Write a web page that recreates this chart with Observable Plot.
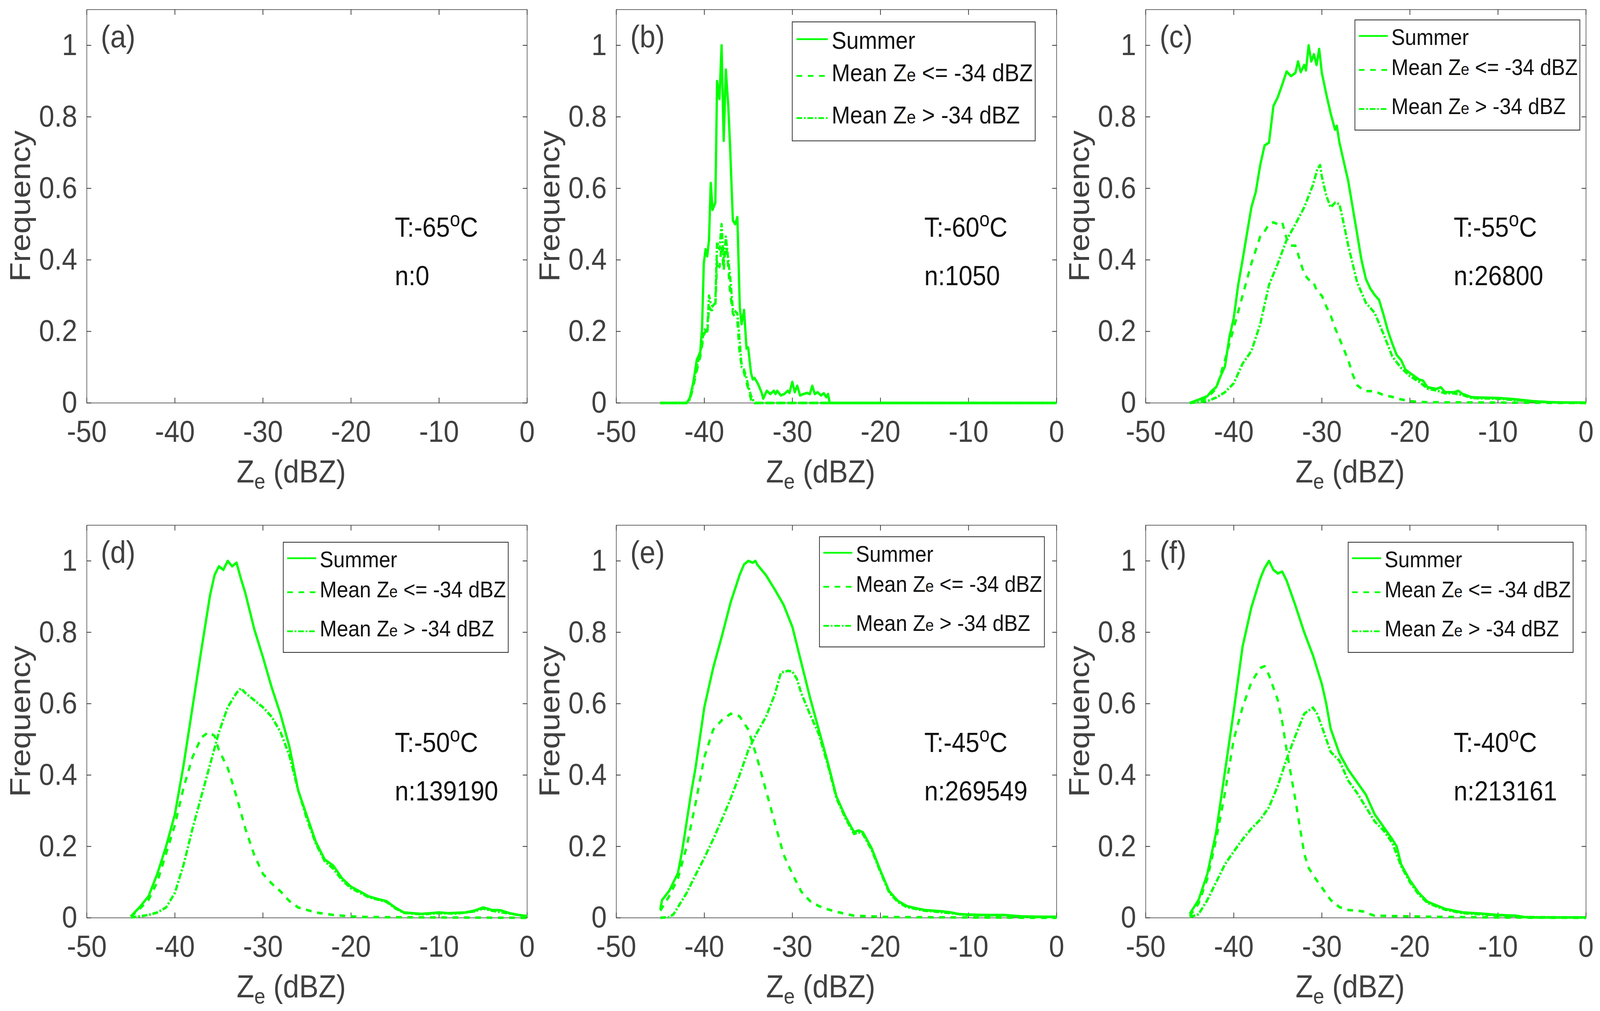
<!DOCTYPE html>
<html>
<head>
<meta charset="utf-8">
<script src="https://cdn.jsdelivr.net/npm/d3@7"></script>
<script src="https://cdn.jsdelivr.net/npm/@observablehq/plot@0.6"></script>
<style>
  html, body { margin: 0; padding: 0; background: #fff; overflow: hidden; }
  #fig { position: absolute; left: 0; top: 0; width: 4524px; height: 2588px; background: #fff; transform-origin: 0 0; }
  .cell { position: absolute; }
</style>
</head>
<body>
<div id="fig"></div>
<script>
// ticks and labels
const xTicks = [-50, -40, -30, -20, -10, 0];
const yTicks = [0, 0.2, 0.4, 0.6, 0.8, 1];
const panelLetters = ["(a)", "(b)", "(c)", "(d)", "(e)", "(f)"];
const temps = [-65, -60, -55, -50, -45, -40];
const counts = [0, 1050, 26800, 139190, 269549, 213161];
const legendLabels = ["Summer", "Mean Z_e <= -34 dBZ", "Mean Z_e > -34 dBZ"];

// [Ze, normalised frequency]
const summerB = [[-45,0],[-42,0],[-41.65,0.014],[-41.26,0.057],[-40.86,0.12],[-40.46,0.143],[-40.26,0.21],[-40.06,0.39],[-39.86,0.43],[-39.67,0.41],[-39.47,0.456],[-39.27,0.615],[-39.07,0.54],[-38.75,0.56],[-38.55,0.9],[-38.28,0.85],[-38.04,1.0],[-37.8,0.733],[-37.56,0.932],[-37.28,0.83],[-37.08,0.72],[-36.76,0.51],[-36.49,0.5],[-36.25,0.52],[-35.97,0.266],[-35.77,0.22],[-35.49,0.26],[-35.21,0.152],[-35.02,0.155],[-34.7,0.084],[-34.5,0.066],[-34.3,0.07],[-33.9,0.053],[-33.51,0.03],[-33.31,0.012],[-32.91,0.034],[-32.51,0.025],[-32.11,0.034],[-31.92,0.025],[-31.72,0.034],[-31.32,0.021],[-30.92,0.025],[-30.52,0.034],[-30.33,0.028],[-30.01,0.059],[-29.73,0.03],[-29.45,0.048],[-29.13,0.021],[-28.74,0.025],[-28.34,0.028],[-28.02,0.025],[-27.74,0.048],[-27.46,0.025],[-27.14,0.03],[-26.75,0.021],[-26.43,0.027],[-26.15,0.016],[-25.95,0.025],[-25.76,0],[0,0]];
const lowB = [[-45,0],[-42,0],[-41.65,0.008],[-41.26,0.045],[-40.86,0.09],[-40.46,0.13],[-40.06,0.19],[-39.86,0.2],[-39.67,0.19],[-39.47,0.27],[-39.27,0.26],[-39.07,0.26],[-38.75,0.27],[-38.55,0.4],[-38.28,0.38],[-38.04,0.44],[-37.8,0.37],[-37.56,0.455],[-37.28,0.38],[-37.08,0.31],[-36.76,0.25],[-36.49,0.24],[-36.25,0.23],[-35.97,0.13],[-35.77,0.11],[-35.49,0.084],[-35.21,0.057],[-35.02,0.04],[-34.7,0.01],[-34.5,0],[0,0]];
const highB = [[-45,0],[-42,0],[-41.65,0.01],[-41.26,0.05],[-40.86,0.1],[-40.46,0.14],[-40.06,0.2],[-39.86,0.21],[-39.67,0.2],[-39.47,0.3],[-39.27,0.28],[-39.07,0.27],[-38.75,0.28],[-38.55,0.45],[-38.28,0.43],[-38.04,0.5],[-37.8,0.39],[-37.56,0.465],[-37.28,0.4],[-37.08,0.356],[-36.76,0.26],[-36.49,0.256],[-36.25,0.25],[-35.97,0.166],[-35.77,0.1],[-35.49,0.093],[-35.21,0.07],[-35.02,0.048],[-34.7,0.02],[-34.3,0],[0,0]];

const summerC = [[-45,0],[-44,0.009],[-43,0.019],[-42.5,0.034],[-42,0.044],[-41.5,0.075],[-41,0.102],[-40.5,0.184],[-40,0.238],[-39.5,0.33],[-39,0.4],[-38.5,0.474],[-38,0.547],[-37.5,0.59],[-37,0.665],[-36.5,0.72],[-36,0.728],[-35.5,0.83],[-35,0.855],[-34.5,0.89],[-34,0.927],[-33.5,0.914],[-33,0.923],[-32.7,0.955],[-32.4,0.925],[-32,0.945],[-31.8,0.93],[-31.5,1.0],[-31.2,0.955],[-30.9,0.975],[-30.6,0.945],[-30.3,0.99],[-30,0.923],[-29.5,0.864],[-29,0.81],[-28.5,0.764],[-28.3,0.775],[-28,0.728],[-27.5,0.674],[-27,0.62],[-26.5,0.547],[-26,0.474],[-25.5,0.4],[-25,0.347],[-24.5,0.32],[-24,0.302],[-23.5,0.288],[-23,0.247],[-22.5,0.202],[-22,0.166],[-21.5,0.134],[-21,0.12],[-20.5,0.093],[-20,0.084],[-19.5,0.075],[-19,0.066],[-18.5,0.062],[-18,0.044],[-17,0.039],[-16.5,0.044],[-16,0.03],[-15,0.03],[-14.5,0.034],[-14,0.025],[-13,0.016],[-12,0.015],[-10,0.014],[-8,0.01],[-6,0.005],[-4,0.002],[-2,0.001],[0,0.001]];
const lowC = [[-45,0],[-44,0.005],[-43,0.015],[-42,0.04],[-41,0.12],[-40,0.21],[-39,0.3],[-38,0.39],[-37,0.465],[-36.5,0.48],[-36,0.5],[-35.5,0.505],[-35,0.5],[-34.5,0.505],[-34,0.46],[-33.5,0.44],[-33,0.44],[-32.5,0.4],[-32,0.36],[-31.5,0.345],[-31,0.34],[-30.5,0.31],[-30,0.3],[-29.5,0.27],[-29,0.245],[-28.5,0.21],[-28,0.18],[-27.5,0.15],[-27,0.12],[-26.5,0.08],[-26,0.05],[-25.5,0.04],[-25,0.033],[-24,0.033],[-23,0.022],[-22,0.017],[-21,0.01],[-20,0.005],[-19,0.003],[-18,0.002],[-10,0.001],[0,0]];
const highC = [[-45,0],[-44,0.002],[-43,0.005],[-42,0.015],[-41,0.03],[-40,0.055],[-39,0.11],[-38,0.145],[-37,0.22],[-36,0.33],[-35,0.39],[-34,0.456],[-33,0.5],[-32,0.547],[-31,0.61],[-30.5,0.655],[-30.2,0.665],[-30,0.633],[-29.5,0.58],[-29,0.547],[-28.5,0.56],[-28,0.556],[-27.5,0.5],[-27,0.44],[-26,0.338],[-25,0.28],[-24,0.252],[-23,0.193],[-22,0.13],[-21,0.098],[-20,0.075],[-19,0.06],[-18,0.04],[-17,0.035],[-16,0.027],[-15,0.027],[-14,0.022],[-13,0.014],[-12,0.013],[-10,0.012],[-8,0.008],[-6,0.004],[-4,0.002],[0,0]];

const summerD = [[-45,0.004],[-44,0.03],[-43,0.06],[-42,0.123],[-41,0.2],[-40,0.29],[-39,0.43],[-38,0.59],[-37,0.75],[-36,0.905],[-35.5,0.96],[-35,0.985],[-34.5,0.975],[-34,1.0],[-33.5,0.985],[-33,0.995],[-32.5,0.95],[-32,0.91],[-31,0.81],[-30,0.73],[-29,0.645],[-28,0.57],[-27,0.48],[-26,0.357],[-25,0.285],[-24,0.213],[-23,0.164],[-22,0.146],[-21,0.11],[-20,0.087],[-19,0.074],[-18,0.06],[-17,0.053],[-16,0.047],[-15,0.029],[-14,0.015],[-13,0.013],[-12,0.011],[-11,0.013],[-10,0.015],[-9,0.013],[-8,0.014],[-7,0.015],[-6,0.02],[-5,0.029],[-4,0.022],[-3,0.021],[-2,0.013],[-1,0.008],[0,0.005]];
const lowD = [[-45,0.003],[-44,0.025],[-43,0.05],[-42,0.1],[-41,0.18],[-40,0.26],[-39,0.366],[-38,0.45],[-37,0.505],[-36.2,0.52],[-35.5,0.51],[-35,0.47],[-34,0.42],[-33,0.34],[-32,0.25],[-31,0.177],[-30,0.123],[-29,0.096],[-28,0.074],[-27,0.047],[-26,0.029],[-25,0.022],[-24,0.015],[-22,0.008],[-20,0.004],[-18,0.002],[-10,0.001],[0,0]];
const highD = [[-45,0.001],[-44,0.004],[-43,0.008],[-42,0.015],[-41,0.029],[-40,0.07],[-39,0.15],[-38,0.25],[-37,0.34],[-36,0.43],[-35,0.52],[-34,0.59],[-33,0.63],[-32.5,0.643],[-32,0.63],[-31,0.61],[-30,0.59],[-29,0.563],[-28,0.52],[-27,0.455],[-26,0.357],[-25,0.276],[-24,0.208],[-23,0.159],[-22,0.137],[-21,0.105],[-20,0.083],[-18,0.058],[-16,0.045],[-15,0.027],[-14,0.014],[-12,0.01],[-10,0.013],[-8,0.012],[-6,0.018],[-5,0.026],[-4,0.02],[-2,0.012],[0,0.004]];

const summerE = [[-45,0.024],[-44.8,0.05],[-44,0.075],[-43,0.125],[-42.5,0.19],[-42,0.27],[-41.5,0.35],[-41,0.42],[-40,0.59],[-39,0.7],[-38,0.79],[-37,0.885],[-36,0.96],[-35.5,0.99],[-35,1.0],[-34.5,0.995],[-34.2,1.0],[-34,0.99],[-33,0.96],[-32,0.92],[-31,0.877],[-30,0.815],[-29,0.716],[-28,0.617],[-27,0.527],[-26,0.437],[-25,0.34],[-24,0.285],[-23,0.24],[-22.5,0.245],[-22,0.24],[-21,0.195],[-20,0.132],[-19,0.074],[-18,0.047],[-17,0.033],[-16,0.027],[-15,0.022],[-14,0.02],[-13,0.018],[-12,0.015],[-11,0.01],[-10,0.009],[-8,0.008],[-6,0.008],[-5,0.006],[-4,0.004],[-2,0.003],[0,0.003]];
const lowE = [[-45,0.02],[-44,0.06],[-43,0.11],[-42,0.2],[-41,0.32],[-40,0.45],[-39,0.527],[-38,0.554],[-37,0.572],[-36,0.565],[-35,0.527],[-34,0.447],[-33,0.357],[-32,0.267],[-31,0.177],[-30,0.123],[-29,0.074],[-28,0.047],[-27,0.033],[-26,0.024],[-25,0.017],[-24,0.011],[-23,0.006],[-21,0.004],[-19,0.002],[-10,0.001],[0,0]];
const highE = [[-45,0],[-44,0.002],[-43.5,0.01],[-43,0.03],[-42,0.07],[-41,0.12],[-40,0.168],[-39,0.22],[-38,0.276],[-37,0.335],[-36,0.4],[-35,0.47],[-34,0.52],[-33,0.563],[-32,0.626],[-31.3,0.687],[-30.5,0.692],[-30,0.69],[-29.5,0.67],[-29,0.63],[-28,0.57],[-27,0.515],[-26,0.43],[-25,0.335],[-24,0.28],[-23,0.235],[-22.5,0.24],[-22,0.235],[-21,0.19],[-20,0.128],[-19,0.07],[-18,0.044],[-17,0.03],[-16,0.025],[-15,0.02],[-14,0.018],[-12,0.013],[-10,0.008],[-8,0.007],[-6,0.007],[-4,0.003],[0,0.002]];

const summerF = [[-45,0.011],[-44,0.05],[-43,0.123],[-42,0.24],[-41,0.41],[-40,0.58],[-39,0.76],[-38,0.87],[-37,0.95],[-36.5,0.98],[-36,1.0],[-35.5,0.975],[-35,0.965],[-34.5,0.97],[-34,0.945],[-33.5,0.91],[-33,0.875],[-32,0.8],[-31,0.735],[-30,0.655],[-29.5,0.6],[-29,0.53],[-28,0.46],[-27,0.415],[-26,0.38],[-25,0.345],[-24,0.29],[-23,0.255],[-22,0.22],[-21.5,0.2],[-21,0.15],[-20,0.105],[-19,0.07],[-18,0.045],[-17,0.035],[-16,0.025],[-15,0.02],[-14,0.015],[-12,0.012],[-10,0.008],[-8,0.006],[-7,0.002],[-6,0.001],[0,0.001]];
const lowF = [[-45,0.005],[-44,0.04],[-43,0.11],[-42,0.22],[-41,0.35],[-40,0.5],[-39,0.59],[-38,0.66],[-37,0.7],[-36.5,0.705],[-36,0.68],[-35,0.61],[-34.5,0.55],[-34,0.47],[-33,0.33],[-32,0.18],[-31.5,0.14],[-31,0.12],[-30,0.085],[-29,0.05],[-28,0.03],[-27,0.022],[-26,0.02],[-25,0.017],[-24.5,0.01],[-24,0.006],[-22,0.005],[-20,0.004],[-18,0.003],[-14,0.002],[-10,0.001],[0,0]];
const highF = [[-45,0.002],[-44,0.01],[-43,0.05],[-42,0.1],[-41,0.15],[-40,0.186],[-39,0.22],[-38,0.25],[-37,0.275],[-36,0.31],[-35,0.37],[-34,0.445],[-33,0.51],[-32,0.572],[-31,0.589],[-30.5,0.57],[-30,0.536],[-29,0.465],[-28,0.44],[-27,0.384],[-26,0.35],[-25,0.31],[-24,0.27],[-23,0.245],[-22,0.21],[-21,0.145],[-20,0.1],[-19,0.065],[-18,0.042],[-17,0.032],[-16,0.023],[-15,0.018],[-14,0.013],[-12,0.01],[-10,0.007],[-8,0.005],[-7,0.002],[0,0.001]];

// panel (a) has no data
const summer = [[], summerB, summerC, summerD, summerE, summerF];
const low = [[], lowB, lowC, lowD, lowE, lowF];
const high = [[], highB, highC, highD, highE, highF];

const green = "#00ff00";
const axisColor = "#404040";
const font = "'Liberation Sans', Arial, Helvetica, sans-serif";
const lineStyles = [null, "16,16", "16,5,5,5"];

// legend box placement inside each frame (px from right / top edge, size factor)
const legendPos = [null, {right: 60, top: 32, k: 1.08}, {right: 17, top: 27, k: 1}, {right: 53, top: 44, k: 1}, {right: 34, top: 30, k: 1}, {right: 36, top: 44, k: 1}];

const figW = 4524, figH = 2588;
const cellW = 1497, cellH = 1294;
const fig = d3.select("#fig");

// stretch the fixed 4524x2588 layout over the viewport that is really there
fig.style("transform", `scale(${window.innerWidth / figW},${window.innerHeight / figH})`);

function drawPanel(i) {
	const row = Math.floor(i / 3), col = i % 3;
	const mt = row === 0 ? 24 : 50;
	const mb = row === 0 ? 263 : 239;

	const marks = [
		Plot.frame({stroke: "#333", strokeWidth: 1.5}),
		Plot.axisX(xTicks, {anchor: "bottom", tickSize: 0, tickPadding: 44, tickFormat: d => String(d), fontSize: 78, fill: axisColor, label: null}),
		Plot.axisY(yTicks, {anchor: "left", tickSize: 0, tickPadding: 27, tickFormat: d => String(d), fontSize: 78, fill: axisColor, label: null}),
	];
	// inward ticks on all four sides
	for (const a of ["bottom", "top"]) {
		marks.push(Plot.axisX(xTicks, {anchor: a, tickSize: -13, strokeWidth: 2, stroke: "#333", fill: "none", label: null}));
	}
	for (const a of ["left", "right"]) {
		marks.push(Plot.axisY(yTicks, {anchor: a, tickSize: -13, strokeWidth: 2, stroke: "#333", fill: "none", label: null}));
	}
	[summer[i], low[i], high[i]].forEach((s, j) => {
		if (s.length) {
			marks.push(Plot.line(s, {
				x: d => d[0], y: d => d[1],
				stroke: green, strokeWidth: 6.5,
				strokeDasharray: lineStyles[j],
				strokeLinecap: "butt"
			}));
		}
	});

	const chart = Plot.plot({
		width: cellW,
		height: cellH,
		marginLeft: 245,
		marginRight: 7,
		marginTop: mt,
		marginBottom: mb,
		x: {domain: [-50, 0]},
		y: {domain: [0, 1.1]},
		style: {fontFamily: font, background: "transparent", overflow: "visible"},
		marks
	});

	const svg = d3.select(chart);
	const sx = chart.scale("x"), sy = chart.scale("y");
	const x0 = sx.apply(-50), x1 = sx.apply(0);
	const yb = sy.apply(0), yt = sy.apply(1.1);

	// all extra text is left-anchored (Plot's svg defaults to middle)
	const addText = (sel) => sel.append("text").attr("text-anchor", "start").attr("font-family", font);

	// axis labels
	const xl = addText(svg).attr("x", x0 + 424).attr("y", yb + 204)
		.attr("font-size", 82).attr("fill", axisColor);
	xl.append("tspan").text("Z");
	xl.append("tspan").attr("font-size", 56).attr("dy", 16).text("e");
	xl.append("tspan").attr("dy", -16).text(" (dBZ)");

	svg.append("text")
		.attr("transform", `translate(${x0 - 160},${(yb + yt) / 2}) rotate(-90)`)
		.attr("text-anchor", "middle").attr("font-size", 82).attr("fill", axisColor).attr("font-family", font)
		.text("Frequency");

	// panel letter
	addText(svg).attr("x", x0 + 40).attr("y", yt + 97)
		.attr("font-size", 80).attr("fill", axisColor)
		.text(panelLetters[i]);

	// temperature and sample count
	const tx = sx.apply(-15);
	const tt = addText(svg).attr("x", tx).attr("y", sy.apply(0.49) + 24)
		.attr("font-size", 70).attr("fill", "#111");
	tt.append("tspan").text(`T:${temps[i]}`);
	tt.append("tspan").attr("font-size", 52).attr("dy", -27).text("o");
	tt.append("tspan").attr("dy", 27).text("C");
	addText(svg).attr("x", tx).attr("y", sy.apply(0.355) + 24)
		.attr("font-size", 70).attr("fill", "#111")
		.text(`n:${counts[i]}`);

	// legend
	const L = legendPos[i];
	if (L) {
		const k = L.k, w = 636 * k, h = 282 * k;
		const g = svg.append("g").attr("transform", `translate(${x1 - L.right - w},${yt + L.top})`);
		g.append("rect").attr("width", w).attr("height", h)
			.attr("fill", "#fff").attr("stroke", "#262626").attr("stroke-width", 2);
		const rowsY = [41, 128, 228];
		const baseOff = [23, 13, 13];
		legendLabels.forEach((lab, j) => {
			const yy = rowsY[j] * k;
			g.append("line").attr("x1", 11 * k).attr("x2", 93 * k).attr("y1", yy).attr("y2", yy)
				.attr("stroke", green).attr("stroke-width", 4.5).attr("stroke-dasharray", lineStyles[j]);
			const t = addText(g).attr("x", 103 * k).attr("y", yy + baseOff[j] * k)
				.attr("font-size", 58 * k).attr("fill", "#111");
			const parts = lab.split("_e");
			t.append("tspan").text(parts[0]);
			if (parts.length > 1) {
				t.append("tspan").attr("font-size", 43 * k).text("e");
				t.append("tspan").text(parts[1]);
			}
		});
	}

	fig.append("div").attr("class", "cell")
		.style("left", (col * cellW) + "px").style("top", (row * cellH) + "px")
		.append(() => chart);
}

for (let i = 0; i < 6; i++) drawPanel(i);
</script>
</body>
</html>
